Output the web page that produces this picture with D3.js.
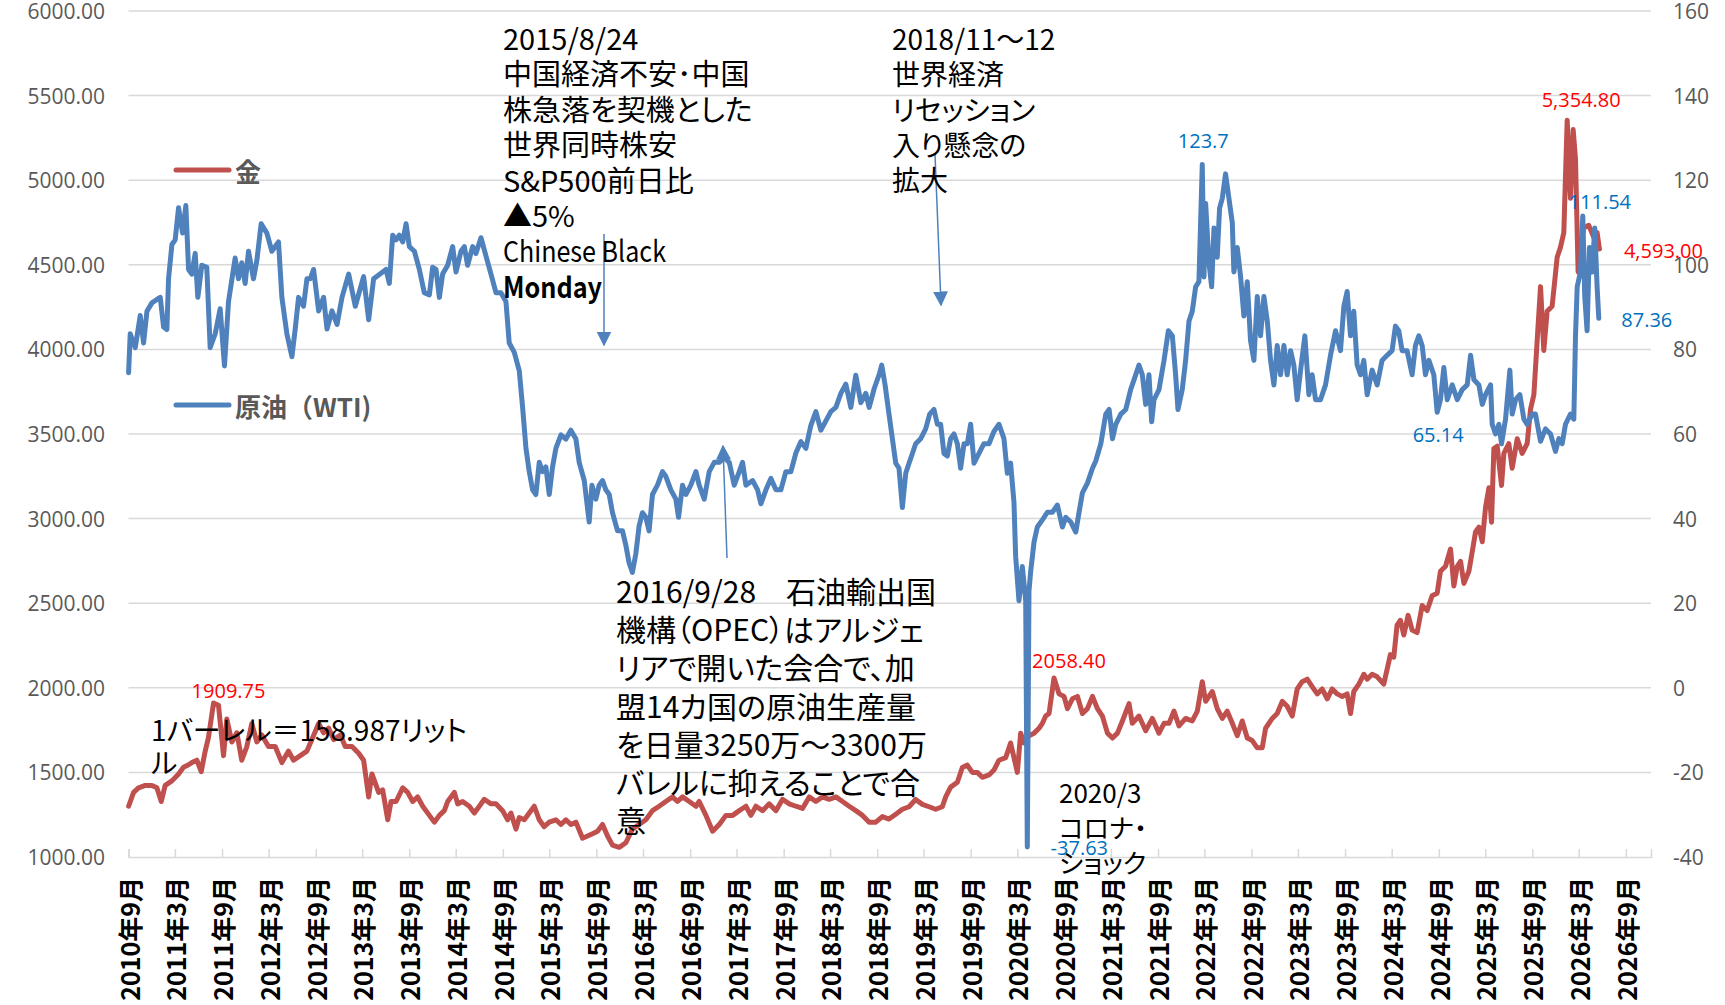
<!DOCTYPE html>
<html>
<head>
<meta charset="utf-8">
<script src="https://cdn.jsdelivr.net/npm/d3@7/dist/d3.min.js"></script>
<style>
  body { margin: 0; background: #fff; }
  svg text { font-family: "Noto Sans CJK JP", "Noto Sans", sans-serif; }
</style>
</head>
<body>
<div id="chart"></div>
<script>
// 金（左軸）と原油WTI（右軸）, dates as decimal years
var xTickLabels = ["2010年9月","2011年3月","2011年9月","2012年3月","2012年9月","2013年3月","2013年9月",
  "2014年3月","2014年9月","2015年3月","2015年9月","2016年3月","2016年9月","2017年3月","2017年9月",
  "2018年3月","2018年9月","2019年3月","2019年9月","2020年3月","2020年9月","2021年3月","2021年9月",
  "2022年3月","2022年9月","2023年3月","2023年9月","2024年3月","2024年9月","2025年3月","2025年9月",
  "2026年3月","2026年9月"];
var leftTicks = [1000,1500,2000,2500,3000,3500,4000,4500,5000,5500,6000];
var rightTicks = [-40,-20,0,20,40,60,80,100,120,140,160];

var gold = [
  [2010.667,1300],[2010.720,1382],[2010.773,1409],[2010.845,1423],[2010.916,1423],[2010.969,1409],[2011.016,1328],
  [2011.058,1423],[2011.130,1450],[2011.201,1491],[2011.254,1531],[2011.308,1545],[2011.343,1558],[2011.397,1572],
  [2011.443,1504],[2011.486,1626],[2011.521,1707],[2011.575,1909.75],[2011.628,1897],[2011.682,1599],[2011.717,1816],
  [2011.771,1680],[2011.824,1734],[2011.877,1572],[2011.931,1653],[2011.984,1789],[2012.038,1680],[2012.091,1721],
  [2012.162,1653],[2012.234,1653],[2012.305,1558],[2012.376,1626],[2012.429,1572],[2012.501,1599],[2012.572,1626],
  [2012.625,1694],[2012.697,1789],[2012.750,1734],[2012.803,1762],[2012.857,1694],[2012.928,1721],[2012.981,1653],
  [2013.053,1653],[2013.124,1613],[2013.177,1572],[2013.231,1355],[2013.266,1491],[2013.338,1382],
  [2013.381,1396],[2013.435,1220],[2013.470,1328],[2013.524,1328],[2013.595,1409],[2013.648,1382],[2013.702,1328],
  [2013.755,1355],[2013.809,1300],[2013.880,1246],[2013.933,1206],[2013.987,1246],[2014.040,1274],[2014.076,1328],
  [2014.147,1382],[2014.183,1314],[2014.236,1328],[2014.307,1300],[2014.361,1260],[2014.414,1300],[2014.467,1341],
  [2014.539,1314],[2014.592,1314],[2014.663,1274],[2014.717,1220],[2014.752,1260],[2014.806,1165],[2014.841,1233],
  [2014.895,1220],[2014.948,1260],[2015.002,1300],[2015.055,1220],[2015.108,1179],[2015.162,1206],[2015.233,1220],
  [2015.287,1192],[2015.340,1220],[2015.393,1192],[2015.447,1206],[2015.518,1111],[2015.571,1124],[2015.625,1138],
  [2015.678,1152],[2015.732,1192],[2015.785,1124],[2015.838,1070],[2015.910,1057],[2015.981,1084],
  [2016.051,1165],[2016.122,1192],[2016.194,1220],[2016.265,1274],[2016.336,1300],[2016.407,1328],[2016.479,1355],
  [2016.532,1328],[2016.585,1355],[2016.657,1328],[2016.728,1300],[2016.763,1328],[2016.835,1246],[2016.906,1152],
  [2016.977,1192],[2017.048,1246],[2017.120,1246],[2017.191,1274],[2017.262,1300],[2017.315,1246],[2017.369,1300],
  [2017.440,1274],[2017.511,1314],[2017.583,1274],[2017.654,1341],[2017.725,1314],[2017.796,1300],[2017.867,1287],
  [2017.939,1355],[2018.010,1328],[2018.081,1355],[2018.152,1341],[2018.224,1355],[2018.295,1328],[2018.366,1300],
  [2018.437,1274],[2018.509,1246],[2018.580,1206],[2018.651,1206],
  [2018.721,1239],[2018.792,1224],[2018.864,1253],[2018.935,1282],[2019.006,1297],[2019.077,1340],[2019.149,1311],
  [2019.220,1297],[2019.291,1282],[2019.362,1297],[2019.398,1355],[2019.451,1413],[2019.523,1442],[2019.576,1529],
  [2019.629,1543],[2019.683,1500],[2019.736,1500],[2019.790,1471],[2019.861,1485],[2019.914,1514],[2019.968,1572],
  [2020.039,1587],[2020.092,1674],[2020.128,1587],[2020.164,1500],[2020.199,1732],[2020.235,1674],[2020.288,1717],
  [2020.342,1732],[2020.395,1761],[2020.431,1790],[2020.466,1833],[2020.502,1848],[2020.555,2058.4],[2020.609,1964],
  [2020.662,1949],[2020.698,1877],[2020.751,1935],[2020.805,1949],[2020.858,1848],[2020.911,1877],[2020.965,1949],
  [2021.018,1877],[2021.071,1833],[2021.125,1732],[2021.179,1703],[2021.232,1732],[2021.285,1804],[2021.356,1906],
  [2021.391,1790],[2021.462,1833],[2021.534,1746],[2021.605,1819],[2021.676,1732],[2021.730,1790],[2021.783,1790],
  [2021.836,1862],[2021.890,1775],[2021.961,1819],[2022.032,1804],[2022.086,1862],[2022.139,2036],[2022.175,1920],
  [2022.246,1978],[2022.299,1877],[2022.353,1819],[2022.406,1862],[2022.460,1790],[2022.513,1717],[2022.566,1804],
  [2022.620,1703],[2022.673,1688],[2022.727,1645],[2022.780,1645],[2022.816,1761],[2022.887,1819],[2022.940,1848],
  [2022.994,1920],[2023.047,1891],[2023.101,1833],[2023.154,1993],[2023.207,2036],[2023.261,2051],[2023.314,2007],
  [2023.368,1964],[2023.421,1993],[2023.475,1935],[2023.528,1993],[2023.581,1964],[2023.635,1949],[2023.688,1964],
  [2023.724,1848],[2023.759,1978],[2023.813,2022],[2023.866,2080],[2023.902,2051],[2023.955,2080],[2024.009,2065],
  [2024.079,2022],[2024.115,2109],[2024.150,2196],[2024.186,2181],[2024.221,2370],[2024.257,2399],[2024.293,2312],
  [2024.339,2428],[2024.382,2341],[2024.435,2326],[2024.489,2486],[2024.542,2457],[2024.595,2544],[2024.649,2559],
  [2024.684,2689],[2024.738,2718],[2024.791,2820],[2024.827,2602],[2024.863,2718],[2024.898,2747],[2024.934,2617],
  [2024.987,2689],[2025.023,2805],[2025.058,2921],[2025.094,2950],[2025.130,2863],[2025.165,3066],[2025.201,3182],
  [2025.229,2979],[2025.254,3414],[2025.290,3428],[2025.336,3196],[2025.361,3385],[2025.414,3443],[2025.450,3298],
  [2025.504,3472],[2025.557,3385],[2025.610,3443],[2025.646,3646],[2025.682,3733],[2025.717,4052],[2025.753,4371],
  [2025.788,3994],[2025.824,4226],[2025.877,4255],[2025.931,4545],[2025.966,4603],[2026.002,4690],[2026.038,5354.8],
  [2026.073,4893],[2026.102,5299],[2026.127,5125],[2026.155,4458],[2026.180,4603],[2026.216,4719],[2026.269,4733],
  [2026.323,4661],[2026.358,4690],[2026.383,4593]
];

var oil = [
  [2010.667,74.5],[2010.684,83.7],[2010.738,80.4],[2010.791,88],[2010.827,81.5],[2010.863,89],[2010.916,91],
  [2010.969,91.8],[2011.005,92.3],[2011.041,85.3],[2011.076,84.7],[2011.094,96.7],[2011.130,104.8],[2011.165,105.9],
  [2011.201,113.5],[2011.244,107.5],[2011.279,114],[2011.308,98.9],[2011.343,97.8],[2011.379,102.7],[2011.407,92.3],
  [2011.450,99.9],[2011.503,99.4],[2011.539,80.4],[2011.593,83.7],[2011.646,89.6],[2011.692,76.1],[2011.735,91.3],
  [2011.806,101.6],[2011.842,96.7],[2011.877,100.5],[2011.913,95.6],[2011.949,103.2],[2012.002,96.7],[2012.038,101],
  [2012.084,109.7],[2012.145,107.5],[2012.198,103.2],[2012.269,105.4],[2012.305,92.3],[2012.358,83.7],[2012.412,78.3],
  [2012.447,84.8],[2012.483,92.3],[2012.536,90.2],[2012.572,96.7],[2012.608,96.7],[2012.643,98.9],[2012.697,89.1],
  [2012.750,92.3],[2012.786,84.8],[2012.839,89.1],[2012.893,85.9],[2012.946,92.3],[2013.017,97.8],[2013.088,90.2],
  [2013.177,97.2],[2013.231,87],[2013.284,96.7],
  [2013.417,98.9],[2013.452,95.6],[2013.488,107],[2013.524,105.9],[2013.559,107],[2013.595,105.4],[2013.631,109.7],
  [2013.666,104.3],[2013.720,103.2],[2013.773,98.9],[2013.826,93.4],[2013.880,92.9],[2013.915,99.4],[2013.951,98.9],
  [2013.987,92.3],[2014.022,97.8],[2014.076,99.9],[2014.129,104.3],[2014.165,98.3],[2014.218,103.2],[2014.254,104.3],
  [2014.289,99.9],[2014.343,104.3],[2014.378,102.7],[2014.432,106.4],[2014.485,102.1],[2014.539,97.8],[2014.592,93.4],
  [2014.645,93.4],[2014.699,91.3],[2014.734,81.5],[2014.788,79.3],[2014.841,75],[2014.877,66.3],[2014.913,56.6],
  [2014.948,51.1],[2014.984,46.8],[2015.019,45.7],[2015.055,53.3],[2015.091,51.1],[2015.126,52.2],[2015.162,45.7],
  [2015.197,52.2],[2015.233,56.6],[2015.287,59.8],[2015.340,58.8],[2015.393,60.9],[2015.447,58.8],[2015.482,53.3],
  [2015.536,49],[2015.589,39.2],[2015.618,47.9],[2015.660,44.6],[2015.696,47.9],[2015.732,49],[2015.767,46.8],
  [2015.803,45.7],[2015.838,41.4],[2015.892,37.1],[2015.945,37.1],
  [2015.980,33.8],[2016.016,29.5],[2016.051,27.3],[2016.087,31.6],[2016.122,38.2],[2016.158,41.4],[2016.194,40.3],
  [2016.229,37.1],[2016.265,45.7],[2016.318,47.9],[2016.372,51.1],[2016.407,50],[2016.461,46.8],[2016.514,44.6],
  [2016.543,40.3],[2016.585,47.9],[2016.621,45.7],[2016.674,47.9],[2016.728,51.1],[2016.763,47.9],[2016.817,44.6],
  [2016.870,51.1],[2016.924,53.3],[2016.977,53.3],[2017.031,54.4],[2017.084,53.3],[2017.137,47.9],[2017.191,51.1],
  [2017.226,53.3],[2017.262,47.9],[2017.333,49],[2017.387,46.8],[2017.422,43.5],[2017.476,46.8],[2017.529,49.5],
  [2017.583,46.8],[2017.636,46.8],[2017.689,51.1],[2017.743,51.1],[2017.796,55.5],[2017.850,58.2],[2017.903,56.6],
  [2017.956,62],[2018.010,65.3],[2018.063,60.9],[2018.117,63.1],[2018.170,65.3],[2018.224,66.3],[2018.277,69.6],
  [2018.330,71.8],[2018.384,66.3],[2018.437,73.9],[2018.491,67.4],[2018.544,69.6],[2018.580,66.3],[2018.633,70.7],
  [2018.686,74],[2018.714,76.3],[2018.750,71.6],[2018.792,64.7],[2018.828,58.9],[2018.864,53.1],[2018.899,51.9],
  [2018.935,42.6],[2018.971,50.7],[2019.006,53.1],[2019.042,55.4],[2019.077,57.7],[2019.131,58.9],[2019.184,61.2],
  [2019.227,64.7],[2019.273,65.8],[2019.309,62.3],[2019.344,62.3],[2019.380,55.4],[2019.416,54.8],[2019.451,58.9],
  [2019.487,60],[2019.523,57.7],[2019.558,51.9],[2019.594,57.7],[2019.629,57.7],[2019.665,62.3],[2019.701,53.1],
  [2019.754,55.4],[2019.807,57.7],[2019.861,57.7],[2019.914,60.6],[2019.968,62.3],[2020.021,58.9],[2020.057,50.7],
  [2020.092,53.1],[2020.128,43.8],[2020.146,31],[2020.181,20.6],[2020.217,28.7],[2020.253,20.6],[2020.270,-37.63],
  [2020.288,22.9],[2020.306,27.5],[2020.342,34.5],[2020.377,38],[2020.431,39.7],[2020.484,41.5],[2020.537,41.5],
  [2020.591,43.2],[2020.644,38],[2020.680,40.3],[2020.733,39.2],[2020.787,36.8],[2020.822,41.5],[2020.858,46.1],
  [2020.911,48.4],[2020.965,51.9],[2021.000,53.6],[2021.054,57.7],[2021.107,64.7],[2021.143,65.8],[2021.179,58.9],
  [2021.214,62.3],[2021.268,64.7],[2021.321,65.8],
  [2021.373,70.5],[2021.409,72.8],[2021.462,76.3],[2021.498,74],[2021.534,67],[2021.569,74],[2021.598,62.9],
  [2021.623,68.1],[2021.676,70.5],[2021.730,77.4],[2021.776,84.4],[2021.819,83.2],[2021.854,74],[2021.879,65.8],
  [2021.925,70.5],[2021.961,77.4],[2021.997,86.7],[2022.032,89],[2022.068,94.8],[2022.103,96],[2022.139,123.7],
  [2022.157,97.1],[2022.175,114.5],[2022.210,100.6],[2022.239,94.8],[2022.264,108.7],[2022.299,101.8],[2022.324,113.4],
  [2022.353,115.7],[2022.388,121.5],[2022.424,115.7],[2022.460,109.9],[2022.477,98.3],[2022.513,104.1],[2022.549,97.1],
  [2022.584,87.9],[2022.620,96],[2022.655,82.1],[2022.691,77.4],[2022.727,92.5],[2022.762,83.2],[2022.798,92.5],
  [2022.834,86.7],[2022.869,77.4],[2022.905,71.6],[2022.940,80.9],[2022.976,74],[2023.012,80.9],[2023.047,74],
  [2023.083,79.7],[2023.118,76.3],[2023.154,68.1],[2023.190,75.1],[2023.236,83.2],[2023.279,69.3],[2023.314,74],
  [2023.350,68.1],[2023.403,68.1],[2023.457,71.6],[2023.510,78.6],[2023.564,84.4],[2023.617,79.7],[2023.653,90.2],
  [2023.688,93.7],[2023.724,83.2],[2023.759,89],[2023.795,76.3],[2023.831,74],[2023.866,77.4],[2023.902,69.3],
  [2023.955,75.1],[2024.009,71.6],
  [2024.061,77.4],[2024.115,78.6],[2024.168,79.7],[2024.204,85.5],[2024.239,84.4],[2024.275,79.7],[2024.328,79.7],
  [2024.382,74],[2024.417,80.9],[2024.453,83.2],[2024.489,80.9],[2024.524,74],[2024.560,77.4],[2024.613,74],
  [2024.649,65.14],[2024.684,68.1],[2024.720,75.7],[2024.756,68.1],[2024.809,71.6],[2024.863,68.1],[2024.916,70.5],
  [2024.969,71.6],[2025.005,78.6],[2025.041,72.8],[2025.094,71.6],[2025.130,67],[2025.165,69.3],[2025.219,71.6],
  [2025.236,62.3],[2025.272,60],[2025.308,62.3],[2025.336,57.7],[2025.379,63.5],[2025.425,75.1],[2025.450,64.7],
  [2025.486,68.1],[2025.532,69.3],[2025.575,63.5],[2025.610,62.3],[2025.664,64.7],[2025.699,64.7],[2025.753,58.3],
  [2025.806,61.2],[2025.860,60],[2025.913,55.9],[2025.949,58.9],[2025.984,57.7],[2026.020,62.3],[2026.073,64.7],
  [2026.109,63.5],[2026.127,83.2],[2026.145,94.8],[2026.180,98.3],[2026.205,111.54],[2026.226,92.5],[2026.251,84.4],
  [2026.276,104.1],[2026.305,98.3],[2026.333,108.7],[2026.358,94.8],[2026.376,87.36]
];

// data labels: [decimal year, value, text]
var goldLabels = [[2011.575,1909.75,"1909.75"],[2020.555,2058.4,"2058.40"],[2026.038,5354.8,"5,354.80"],[2026.383,4593,"4,593.00"]];
var oilLabels = [[2022.139,123.7,"123.7"],[2026.205,111.54,"111.54"],[2026.376,87.36,"87.36"],[2024.649,65.14,"65.14"],[2020.270,-37.63,"-37.63"]];

var noteChina = ["2015/8/24","中国経済不安･中国","株急落を契機とした","世界同時株安","S&P500前日比","▲5%","Chinese Black","Monday"];
var noteRecession = ["2018/11〜12","世界経済","リセッション","入り懸念の","拡大"];
var noteOpec = ["2016/9/28　石油輸出国","機構（OPEC）はアルジェ","リアで開いた会合で、加","盟14カ国の原油生産量","を日量3250万〜3300万","バレルに抑えることで合","意"];
var noteBarrel = ["1バーレル＝158.987リット","ル"];
var noteCovid = ["2020/3","コロナ・","ショック"];

function yd(y) {
    var yr = Math.floor(y);
    var a = new Date(yr, 0, 1), b = new Date(yr + 1, 0, 1);
    return new Date(+a + (y - yr) * (b - a));
}
function parseTick(s) {
    var m = s.match(/(\d+)年(\d+)月/);
    return new Date(+m[1], +m[2] - 1, 1);
}

var W = 1725, H = 1005;
var plot = { left: 128.5, right: 1651, top: 11, bottom: 857 };
var red = "#C0504D", blue = "#4F81BD", grid = "#d9d9d9", axisText = "#595959";

var svg = d3.select("#chart").append("svg")
    .attr("width", W).attr("height", H);

var x = d3.scaleTime()
    .domain([new Date(2010, 8, 1), new Date(2026, 11, 8)])
    .range([plot.left, plot.right]);
var yL = d3.scaleLinear().domain([1000, 6000]).range([plot.bottom, plot.top]);
var yR = d3.scaleLinear().domain([-40, 160]).range([plot.bottom, plot.top]);

// gridlines
svg.append("g").selectAll("line").data(leftTicks.slice(1)).enter().append("line")
    .attr("x1", plot.left).attr("x2", plot.right)
    .attr("y1", function(d) { return yL(d); }).attr("y2", function(d) { return yL(d); })
    .attr("stroke", grid).attr("stroke-width", 1.5);

// x axis
var tickDates = xTickLabels.map(parseTick);
var xAxis = svg.append("g").attr("transform", "translate(0," + plot.bottom + ")")
    .call(d3.axisBottom(x).tickValues(tickDates).tickSize(-8).tickFormat(""));
xAxis.select(".domain").attr("stroke", grid).attr("stroke-width", 1.5);
xAxis.selectAll(".tick line").attr("stroke", grid).attr("stroke-width", 1.5);

svg.append("g").selectAll("text").data(xTickLabels).enter().append("text")
    .attr("transform", function(d) { return "translate(" + x(parseTick(d)) + "," + (plot.bottom + 20) + ") rotate(-90)"; })
    .attr("text-anchor", "end")
    .attr("dominant-baseline", "central")
    .attr("font-size", 25).attr("font-weight", 700).attr("fill", "#000")
    .text(function(d) { return d; });

// y axes labels
svg.append("g").selectAll("text").data(leftTicks).enter().append("text")
    .attr("x", 105).attr("y", function(d) { return yL(d); })
    .attr("text-anchor", "end").attr("dominant-baseline", "central")
    .style("font-family", "'Open Sans', sans-serif")
    .attr("font-size", 21).attr("fill", axisText)
    .text(function(d) { return d3.format(".2f")(d); });

svg.append("g").selectAll("text").data(rightTicks).enter().append("text")
    .attr("x", 1673).attr("y", function(d) { return yR(d); })
    .attr("dominant-baseline", "central")
    .style("font-family", "'Open Sans', sans-serif")
    .attr("font-size", 21).attr("fill", axisText)
    .text(function(d) { return d; });

// series
svg.append("path").datum(gold)
    .attr("fill", "none").attr("stroke", red).attr("stroke-width", 5)
    .attr("stroke-linejoin", "round").attr("stroke-linecap", "round")
    .attr("d", d3.line()
        .x(function(d) { return x(yd(d[0])); })
        .y(function(d) { return yL(d[1]); }));

svg.append("path").datum(oil)
    .attr("fill", "none").attr("stroke", blue).attr("stroke-width", 5)
    .attr("stroke-linejoin", "round").attr("stroke-linecap", "round")
    .attr("d", d3.line()
        .x(function(d) { return x(yd(d[0])); })
        .y(function(d) { return yR(d[1]); }));

// legend
var legend = [{ name: "金", color: red, y: 170 }, { name: "原油（WTI)", color: blue, y: 405 }];
legend.forEach(function(l) {
    svg.append("line").attr("x1", 176).attr("x2", 229).attr("y1", l.y).attr("y2", l.y)
        .attr("stroke", l.color).attr("stroke-width", 5).attr("stroke-linecap", "round");
    svg.append("text").attr("x", 235).attr("y", l.y).attr("dominant-baseline", "central")
        .attr("font-size", 26).attr("font-weight", 700).attr("fill", axisText).text(l.name);
});

// arrows
svg.append("defs").append("marker").attr("id", "arr").attr("viewBox", "0 0 10 10")
    .attr("refX", 9).attr("refY", 5).attr("markerWidth", 15).attr("markerHeight", 15)
    .attr("markerUnits", "userSpaceOnUse").attr("orient", "auto")
    .append("path").attr("d", "M0,0L10,5L0,10Z").attr("fill", blue);

function arrow(x1, y1, x2, y2) {
    svg.append("line").attr("x1", x1).attr("y1", y1).attr("x2", x2).attr("y2", y2)
        .attr("stroke", blue).attr("stroke-width", 1.5).attr("marker-end", "url(#arr)");
}
arrow(604, 234, 604, 345);
arrow(935, 154, 941, 305);
arrow(727, 558, 723, 446);

// annotation text blocks (latin-only lines squeezed to the narrower original face)
var squeeze = { "Chinese Black": 163, "Monday": 99 };
function note(lines, x0, y0, pitch, size) {
    var t = svg.append("text").attr("font-size", size).attr("fill", "#000")
        .style("font-feature-settings", "'palt'");
    lines.forEach(function(s, i) {
        var ts = t.append("tspan").attr("x", x0).attr("y", y0 + i * pitch).text(s);
        if (squeeze[s]) ts.attr("textLength", squeeze[s]).attr("lengthAdjust", "spacingAndGlyphs");
        if (s === "Monday") ts.attr("font-weight", 700);
    });
}
note(noteChina, 503, 50, 35.4, 29);
note(noteRecession, 892, 50, 35.3, 28);
note(noteOpec, 616, 603, 38.2, 30);
note(noteBarrel, 151, 741, 33, 28);
note(noteCovid, 1059, 803, 35, 26);

// data labels
var goldOff = [[15, -13], [15, -17], [14, -21], [64, 1]];
var oilOff = [[1, -24], [17, -14], [48, 1], [1, 22], [52, 1]];
svg.append("g").selectAll("text").data(goldLabels).enter().append("text")
    .attr("x", function(d, i) { return x(yd(d[0])) + goldOff[i][0]; })
    .attr("y", function(d, i) { return yL(d[1]) + goldOff[i][1]; })
    .attr("text-anchor", "middle").attr("dominant-baseline", "central")
    .style("font-family", "'Open Sans', sans-serif")
    .attr("font-size", 20).attr("fill", "#FF0000").text(function(d) { return d[2]; });
svg.append("g").selectAll("text").data(oilLabels).enter().append("text")
    .attr("x", function(d, i) { return x(yd(d[0])) + oilOff[i][0]; })
    .attr("y", function(d, i) { return yR(d[1]) + oilOff[i][1]; })
    .attr("text-anchor", "middle").attr("dominant-baseline", "central")
    .style("font-family", "'Open Sans', sans-serif")
    .attr("font-size", 20).attr("fill", "#0070C0").text(function(d) { return d[2]; });
</script>
</body>
</html>
